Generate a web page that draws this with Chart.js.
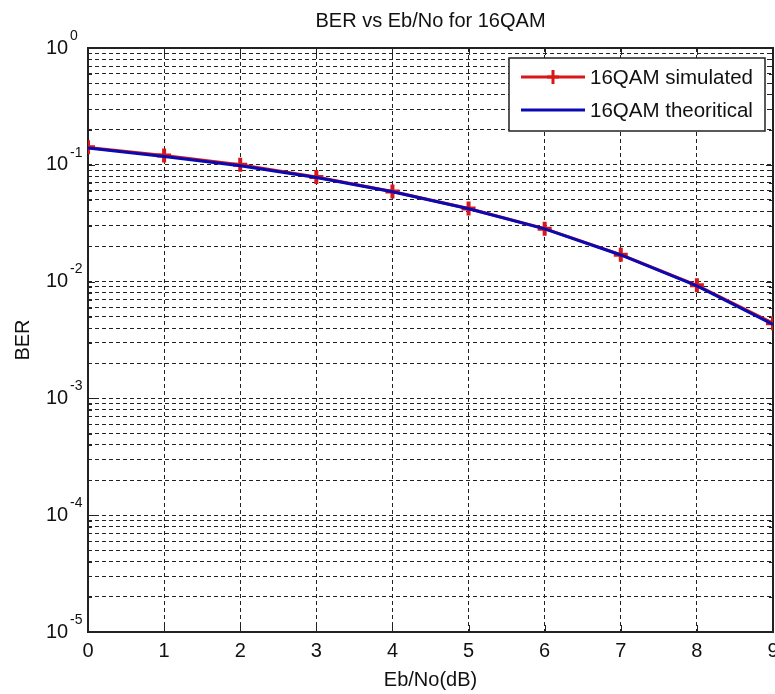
<!DOCTYPE html>
<html>
<head>
<meta charset="utf-8">
<script src="https://cdn.jsdelivr.net/npm/chart.js@4.4.1/dist/chart.umd.min.js"></script>
<style>
  html, body { margin: 0; padding: 0; background: #fff; overflow: hidden; }
  canvas { display: block; }
</style>
</head>
<body>
<canvas id="ber-chart" width="775" height="694"></canvas>
<script>
// values
const ebNo = [0, 1, 2, 3, 4, 5, 6, 7, 8, 9];
const berSimulated = [0.141, 0.120, 0.100, 0.0785, 0.0590, 0.0423, 0.0284, 0.0170, 0.0093, 0.0044];
const berTheoretical = [0.139, 0.118, 0.098, 0.078, 0.0587, 0.0421, 0.0283, 0.0169, 0.0092, 0.0043];
const xTickLabels = ['0', '1', '2', '3', '4', '5', '6', '7', '8', '9'];
const yDecades = [-5, -4, -3, -2, -1, 0];
const yMantissas = [1, 2, 3, 4, 5, 6, 7, 8, 9];

const titleText = 'BER vs Eb/No for 16QAM';
const xTitle = 'Eb/No(dB)';
const yTitle = 'BER';
const FONT = '"Liberation Sans", Arial, sans-serif';

// grid lines: every mantissa inside each decade, plus 10^0
const yGridValues = [];
yDecades.forEach(e => {
    if (e === 0) { yGridValues.push(1); return; }
    yMantissas.forEach(m => yGridValues.push(m * Math.pow(10, e)));
});

const isDecade = v => Math.abs(Math.log10(v) - Math.round(Math.log10(v))) < 1e-9;

// axes frame, tick marks, labels, title, legend - drawn MATLAB style
const matlabAxes = {
    id: 'matlabAxes',
    beforeDatasetsDraw(chart) {
        const { ctx, chartArea: a, scales: { x, y } } = chart;
        ctx.save();
        ctx.strokeStyle = '#222';
        ctx.lineWidth = 1;
        ctx.setLineDash([]);
        // tick marks pointing in
        ebNo.forEach(v => {
            const px = Math.round(x.getPixelForValue(v)) + 0.5;
            ctx.beginPath();
            ctx.moveTo(px, a.bottom); ctx.lineTo(px, a.bottom - 7);
            ctx.moveTo(px, a.top); ctx.lineTo(px, a.top + 7);
            ctx.stroke();
        });
        yGridValues.forEach(v => {
            const py = Math.round(y.getPixelForValue(v)) + 0.5;
            const len = isDecade(v) ? 7 : 4;
            ctx.beginPath();
            ctx.moveTo(a.left, py); ctx.lineTo(a.left + len, py);
            ctx.moveTo(a.right, py); ctx.lineTo(a.right - len, py);
            ctx.stroke();
        });
        // frame
        ctx.lineWidth = 2;
        ctx.strokeRect(a.left, a.top, a.right - a.left, a.bottom - a.top);
        ctx.restore();
    },
    afterDraw(chart) {
        const { ctx, chartArea: a, scales: { x, y } } = chart;
        ctx.save();
        ctx.fillStyle = '#111';

        // x tick labels
        ctx.font = '20px ' + FONT;
        ctx.textAlign = 'center';
        ctx.textBaseline = 'middle';
        ebNo.forEach((v, i) => ctx.fillText(xTickLabels[i], x.getPixelForValue(v), 651));

        // y tick labels 10^n
        yDecades.forEach(e => {
            const py = y.getPixelForValue(Math.pow(10, e));
            ctx.font = '20px ' + FONT;
            ctx.textAlign = 'left';
            ctx.textBaseline = 'middle';
            ctx.fillText('10', 46, py);
            ctx.font = '14px ' + FONT;
            ctx.fillText(String(e), 70, py - 12);
        });

        // title and axis titles
        const cx = (a.left + a.right) / 2;
        ctx.font = '20px ' + FONT;
        ctx.textAlign = 'center';
        ctx.textBaseline = 'middle';
        ctx.fillText(titleText, cx, 21);
        ctx.fillText(xTitle, cx, 680);
        ctx.save();
        ctx.translate(23, (a.top + a.bottom) / 2);
        ctx.rotate(-Math.PI / 2);
        ctx.fillText(yTitle, 0, 0);
        ctx.restore();

        // legend box
        const bx = 509, by = 58, bw = 256, bh = 73;
        ctx.fillStyle = '#fff';
        ctx.fillRect(bx, by, bw, bh);
        ctx.strokeStyle = '#222';
        ctx.lineWidth = 1.5;
        ctx.strokeRect(bx, by, bw, bh);

        const rows = [77, 110];
        chart.data.datasets.forEach((ds, i) => {
            const ly = rows[i];
            ctx.strokeStyle = ds.borderColor;
            ctx.lineWidth = 3;
            ctx.beginPath();
            ctx.moveTo(521, ly); ctx.lineTo(585, ly);
            ctx.stroke();
            if (ds.pointRadius > 0) {
                ctx.strokeStyle = ds.pointBorderColor;
                ctx.lineWidth = 3;
                ctx.beginPath();
                ctx.moveTo(553 - 6, ly); ctx.lineTo(553 + 6, ly);
                ctx.moveTo(553, ly - 7); ctx.lineTo(553, ly + 7);
                ctx.stroke();
            }
            ctx.fillStyle = '#111';
            ctx.font = '20.5px ' + FONT;
            ctx.textAlign = 'left';
            ctx.textBaseline = 'middle';
            ctx.fillText(ds.label, 590, ly + 1);
        });
        ctx.restore();
    }
};

new Chart(document.getElementById('ber-chart'), {
    type: 'line',
    data: {
        datasets: [
            {
                label: '16QAM simulated',
                data: ebNo.map((v, i) => ({ x: v, y: berSimulated[i] })),
                borderColor: '#d81818',
                borderWidth: 3,
                pointStyle: 'cross',
                pointRadius: 7,
                pointBorderWidth: 4,
                pointBorderColor: '#d81818',
                pointBackgroundColor: '#d81818',
                tension: 0,
                order: 2
            },
            {
                label: '16QAM theoritical',
                data: ebNo.map((v, i) => ({ x: v, y: berTheoretical[i] })),
                borderColor: '#0a0ab4',
                borderWidth: 3,
                pointRadius: 0,
                tension: 0,
                order: 1
            }
        ]
    },
    options: {
        responsive: false,
        animation: false,
        devicePixelRatio: 1,
        layout: { autoPadding: false, padding: { left: 88, top: 48, right: 2, bottom: 62 } },
        plugins: {
            legend: { display: false },
            tooltip: { enabled: false },
            title: { display: false }
        },
        scales: {
            x: {
                type: 'linear',
                min: 0,
                max: 9,
                afterBuildTicks: s => { s.ticks = ebNo.map(v => ({ value: v })); },
                afterFit: s => { s.height = 0; s.paddingLeft = 0; s.paddingRight = 0; },
                ticks: { display: false },
                grid: { color: '#222', lineWidth: 1, drawTicks: false },
                border: { display: false, dash: [4, 3] }
            },
            y: {
                type: 'logarithmic',
                min: 1e-5,
                max: 1,
                afterBuildTicks: s => { s.ticks = yGridValues.map(v => ({ value: v })); },
                afterFit: s => { s.width = 0; s.paddingTop = 0; s.paddingBottom = 0; },
                ticks: { display: false, autoSkip: false },
                grid: { color: '#222', lineWidth: 1, drawTicks: false },
                border: { display: false, dash: [4, 3] }
            }
        }
    },
    plugins: [matlabAxes]
});
</script>
</body>
</html>
